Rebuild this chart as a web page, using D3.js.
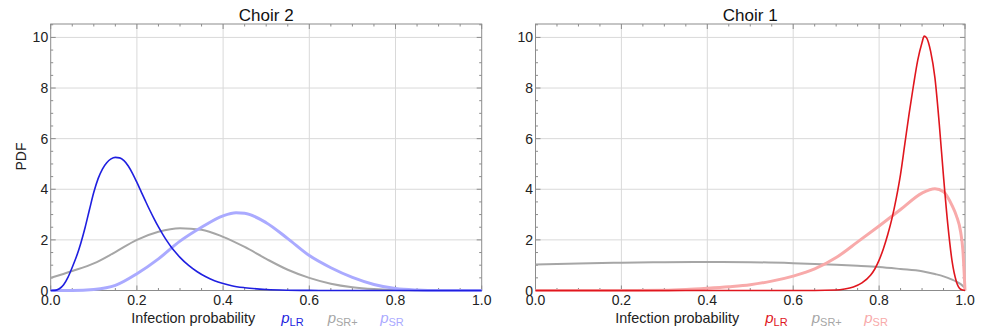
<!DOCTYPE html>
<html>
<head>
<meta charset="utf-8">
<script src="https://cdn.jsdelivr.net/npm/d3@7"></script>
<style>
  body { margin: 0; background: #fff; }
  svg { display: block; font-family: "Liberation Sans", Arial, sans-serif; }
</style>
</head>
<body>
<svg width="988" height="333"></svg>
<script>
const xTicks = [0, 0.2, 0.4, 0.6, 0.8, 1.0];
const yTicks = [0, 2, 4, 6, 8, 10];
const titles = ["Choir 2", "Choir 1"];
const xLabel = "Infection probability";
const legendSubs = ["LR", "SR+", "SR"];

// Choir 2 curves as [x, pdf]
const choir2LR = [[0,0],[0.01,0.005],[0.02,0.07],[0.03,0.23],[0.04,0.52],[0.05,0.92],[0.06,1.35],[0.07,1.88],
  [0.08,2.5],[0.09,3.2],[0.1,3.88],[0.11,4.42],[0.12,4.8],[0.13,5.05],[0.14,5.2],[0.15,5.26],[0.16,5.24],
  [0.17,5.13],[0.18,4.92],[0.19,4.62],[0.2,4.27],[0.21,3.9],[0.22,3.53],[0.23,3.17],[0.24,2.83],[0.25,2.51],
  [0.26,2.22],[0.27,1.95],[0.28,1.71],[0.29,1.5],[0.3,1.31],[0.32,0.99],[0.34,0.74],[0.36,0.54],[0.38,0.39],
  [0.4,0.28],[0.42,0.19],[0.45,0.11],[0.5,0.04],[0.55,0.012],[0.6,0.003],[0.65,0],[0.8,0],[1,0]];
const choir2SRplus = [[0,0.5],[0.05,0.77],[0.1,1.07],[0.15,1.52],[0.2,2.0],[0.25,2.32],[0.3,2.46],[0.35,2.4],
  [0.4,2.12],[0.45,1.72],[0.5,1.25],[0.55,0.82],[0.6,0.5],[0.65,0.27],[0.7,0.13],[0.75,0.055],[0.8,0.02],
  [0.85,0.005],[0.9,0],[1,0]];
const choir2SR = [[0,0],[0.05,0],[0.1,0.04],[0.15,0.2],[0.2,0.66],[0.25,1.25],[0.3,1.95],[0.35,2.5],[0.4,2.95],
  [0.43,3.07],[0.45,3.05],[0.5,2.68],[0.55,2.05],[0.6,1.38],[0.65,0.9],[0.7,0.52],[0.75,0.24],[0.8,0.08],
  [0.85,0.02],[0.9,0],[1,0]];

// Choir 1 curves
const choir1LR = [[0,0],[0.6,0],[0.7,0.02],[0.72,0.06],[0.74,0.14],[0.76,0.3],[0.78,0.6],[0.79,0.85],[0.8,1.2],
  [0.81,1.65],[0.82,2.2],[0.83,2.85],[0.84,3.65],[0.85,4.6],[0.86,5.8],[0.87,7.0],[0.88,8.1],[0.89,9.1],
  [0.9,9.8],[0.905,10.05],[0.91,10.0],[0.92,9.45],[0.93,8.4],[0.94,6.6],[0.95,4.5],[0.96,2.6],[0.97,1.15],
  [0.98,0.35],[0.99,0.05],[1,0]];
const choir1SRplus = [[0,1.03],[0.1,1.07],[0.2,1.1],[0.3,1.12],[0.4,1.13],[0.5,1.12],[0.6,1.08],[0.7,1.02],
  [0.75,0.98],[0.8,0.93],[0.85,0.85],[0.9,0.76],[0.93,0.65],[0.95,0.56],[0.97,0.43],[0.98,0.35],[0.99,0.25],
  [1,0.1]];
const choir1SR = [[0,0],[0.2,0],[0.3,0.01],[0.35,0.04],[0.4,0.09],[0.45,0.15],[0.5,0.23],[0.55,0.37],[0.6,0.57],
  [0.65,0.85],[0.7,1.3],[0.75,1.92],[0.8,2.55],[0.85,3.2],[0.9,3.85],[0.93,4.02],[0.95,3.9],[0.97,3.35],
  [0.98,2.95],[0.99,2.3],[0.995,1.6],[1,0]];

const panels = [
  { left: 50.7, right: 481.7, title: titles[0],
    series: [
      { data: choir2SRplus, color: "#a6a6a6", width: 2 },
      { data: choir2SR, color: "#aaaaff", width: 3 },
      { data: choir2LR, color: "#1f1fe0", width: 1.6 }
    ] },
  { left: 535.5, right: 965, title: titles[1],
    series: [
      { data: choir1SRplus, color: "#a6a6a6", width: 2 },
      { data: choir1SR, color: "#f8aaaa", width: 3 },
      { data: choir1LR, color: "#e0161e", width: 1.6 }
    ] }
];
const plotTop = 24, plotBottom = 290.5;

const svg = d3.select("svg");

panels.forEach((p, pi) => {
  const x = d3.scaleLinear().domain([0, 1]).range([p.left, p.right]);
  const y = d3.scaleLinear().domain([0, 10.53]).range([plotBottom, plotTop]);
  const g = svg.append("g");

  // grid
  g.append("g").selectAll("line").data(xTicks.slice(1, -1)).enter().append("line")
    .attr("x1", d => x(d)).attr("x2", d => x(d)).attr("y1", plotTop).attr("y2", plotBottom)
    .attr("stroke", "#d9d9d9").attr("stroke-width", 1);
  g.append("g").selectAll("line").data(yTicks.slice(1)).enter().append("line")
    .attr("y1", d => y(d)).attr("y2", d => y(d)).attr("x1", p.left).attr("x2", p.right)
    .attr("stroke", "#d9d9d9").attr("stroke-width", 1);

  // frame with inward ticks on all sides
  const minorX = d3.range(0, 1.0001, 0.05);
  const minorY = d3.range(0, 10.51, 0.5);
  const tk = g.append("g").attr("stroke", "#8c8c8c").attr("stroke-width", 1);
  minorX.forEach((v, i) => {
    const len = i % 4 === 0 ? 5 : 2.5;
    tk.append("line").attr("x1", x(v)).attr("x2", x(v)).attr("y1", plotBottom).attr("y2", plotBottom - len);
    tk.append("line").attr("x1", x(v)).attr("x2", x(v)).attr("y1", plotTop).attr("y2", plotTop + len);
  });
  minorY.forEach((v, i) => {
    const len = i % 4 === 0 ? 5 : 2.5;
    tk.append("line").attr("y1", y(v)).attr("y2", y(v)).attr("x1", p.left).attr("x2", p.left + len);
    tk.append("line").attr("y1", y(v)).attr("y2", y(v)).attr("x1", p.right).attr("x2", p.right - len);
  });
  g.append("rect").attr("x", p.left).attr("y", plotTop)
    .attr("width", p.right - p.left).attr("height", plotBottom - plotTop)
    .attr("fill", "none").attr("stroke", "#8c8c8c").attr("stroke-width", 1);

  // curves
  const line = d3.line().x(d => x(d[0])).y(d => y(d[1])).curve(d3.curveMonotoneX);
  p.series.forEach(s => {
    g.append("path").datum(s.data).attr("d", line)
      .attr("fill", "none").attr("stroke", s.color).attr("stroke-width", s.width)
      .attr("stroke-linejoin", "round");
  });

  // tick labels
  g.append("g").selectAll("text").data(xTicks).enter().append("text")
    .attr("x", d => x(d)).attr("y", 305).attr("text-anchor", "middle")
    .attr("font-size", 14).attr("fill", "#222").text(d => d.toFixed(1));
  g.append("g").selectAll("text").data(yTicks).enter().append("text")
    .attr("x", p.left - 2.5).attr("y", d => y(d)).attr("dy", "0.36em").attr("text-anchor", "end")
    .attr("font-size", 14).attr("fill", "#222").text(d => d);

  // title
  const cx = (p.left + p.right) / 2;
  g.append("text").attr("x", cx).attr("y", 21).attr("text-anchor", "middle")
    .attr("font-size", 17).attr("fill", "#111").text(p.title);

  // axis label + legend
  g.append("text").attr("x", cx - 73).attr("y", 323).attr("text-anchor", "middle")
    .attr("font-size", 14.4).attr("fill", "#222").text(xLabel);
  const legOffsets = [15, 61.5, 114];
  const legColors = [p.series[2].color, p.series[0].color, p.series[1].color];
  legendSubs.forEach((sub, i) => {
    const t = g.append("text").attr("x", cx + legOffsets[i]).attr("y", 323)
      .attr("font-size", 15).attr("fill", legColors[i]);
    t.append("tspan").attr("font-style", "italic").text("p");
    t.append("tspan").attr("font-size", 11).attr("dy", 3).text(sub);
  });

  if (pi === 0) {
    svg.append("text").attr("transform", `translate(25.5,156.5) rotate(-90)`)
      .attr("text-anchor", "middle").attr("font-size", 14).attr("fill", "#222").text("PDF");
  }
});
</script>
</body>
</html>
